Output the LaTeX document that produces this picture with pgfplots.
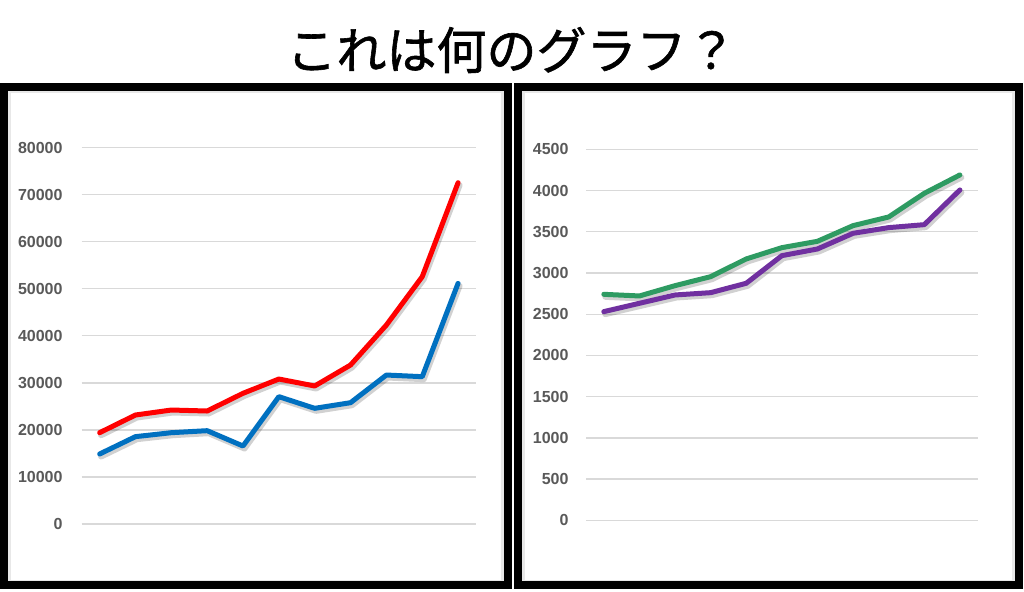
\documentclass[border=0pt]{standalone}
\usepackage{pgfplots}
\pgfplotsset{compat=1.18}
\usepackage{fontspec}
\setmainfont{Liberation Sans}
\newfontfamily\cjk[FakeBold=1.2]{Noto Sans CJK JP}
\definecolor{lred}{RGB}{255,0,0}
\definecolor{lblue}{RGB}{0,112,192}
\definecolor{lgreen}{RGB}{46,155,98}
\definecolor{lpurple}{RGB}{112,48,160}
\definecolor{tickgray}{RGB}{89,89,89}
\definecolor{gridgray}{RGB}{217,217,217}
\pgfplotsset{
  panel/.style={
    scale only axis,
    anchor=south west,
    axis line style={draw=none},
    ymajorgrids,
    grid style={color=gridgray, line width=1.3pt},
    xtick=\empty,
    major tick length=0pt,
    yticklabel style={font=\bfseries\fontsize{16}{16}\selectfont, text=tickgray, anchor=east, inner sep=0pt},
    scaled y ticks=false,
    /pgf/number format/set thousands separator={},
    /pgf/number format/assume math mode=true,
    xmin=-0.5, xmax=10.5,
    clip=false,
  },
  sline/.style={line width=5pt, line join=round, line cap=round},
  shadow/.style={line width=6pt, line join=round, line cap=round, color=black, opacity=0.18, xshift=1.5pt, yshift=-2.5pt},
}
\begin{document}
\begin{tikzpicture}[x=1pt,y=1pt]
\useasboundingbox (0,0) rectangle (1024,591);
\fill[white] (0,0) rectangle (1024,591);
\node at (511.5,541) {\cjk\fontsize{50}{52}\selectfont これは何のグラフ？};
% panel frames
\draw[gray!18, line width=3pt] (9.5,10) rectangle (502.5,499.5);
\draw[black, line width=8pt] (4,6) rectangle (507.5,504);
\draw[gray!18, line width=3pt] (523,10) rectangle (1013.5,499.5);
\draw[black, line width=8pt] (518,6) rectangle (1019,504);

\begin{axis}[panel, at={(81.7pt,67pt)}, width=394.3pt, height=376.3pt,
  ymin=0, ymax=80000, ytick={0,10000,...,80000},
  yticklabel style={xshift=-19pt}]
\addplot[shadow] coordinates {(0,14880)(1,18570)(2,19410)(3,19840)(4,16580)(5,27070)(6,24590)(7,25790)(8,31670)(9,31320)(10,51160)};
\addplot[shadow] coordinates {(0,19410)(1,23170)(2,24230)(3,24020)(4,27780)(5,30820)(6,29340)(7,33800)(8,42300)(9,52580)(10,72560)};
\addplot[sline, lblue] coordinates {(0,14880)(1,18570)(2,19410)(3,19840)(4,16580)(5,27070)(6,24590)(7,25790)(8,31670)(9,31320)(10,51160)};
\addplot[sline, lred] coordinates {(0,19410)(1,23170)(2,24230)(3,24020)(4,27780)(5,30820)(6,29340)(7,33800)(8,42300)(9,52580)(10,72560)};
\end{axis}

\begin{axis}[panel, at={(586pt,70.7pt)}, width=391.7pt, height=371pt,
  ymin=0, ymax=4500, ytick={0,500,...,4500},
  yticklabel style={xshift=-17.3pt}]
\addplot[shadow] coordinates {(0,2531)(1,2632)(2,2733)(3,2761)(4,2875)(5,3210)(6,3291)(7,3481)(8,3550)(9,3586)(10,4007)};
\addplot[shadow] coordinates {(0,2741)(1,2721)(2,2846)(3,2955)(4,3170)(5,3307)(6,3384)(7,3574)(8,3679)(9,3966)(10,4189)};
\addplot[sline, lpurple] coordinates {(0,2531)(1,2632)(2,2733)(3,2761)(4,2875)(5,3210)(6,3291)(7,3481)(8,3550)(9,3586)(10,4007)};
\addplot[sline, lgreen] coordinates {(0,2741)(1,2721)(2,2846)(3,2955)(4,3170)(5,3307)(6,3384)(7,3574)(8,3679)(9,3966)(10,4189)};
\end{axis}
\end{tikzpicture}
\end{document}
